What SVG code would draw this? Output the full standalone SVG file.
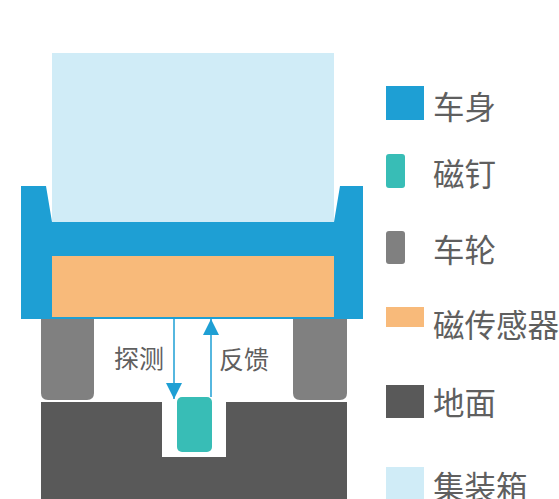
<svg xmlns="http://www.w3.org/2000/svg" width="559" height="499" viewBox="0 0 559 499">
  <defs>
    <style>
      .body { fill: #1E9FD4; }
      .container { fill: #D0ECF7; }
      .sensor { fill: #F8BA7A; }
      .wheel { fill: #808080; }
      .ground { fill: #595959; }
      .nail { fill: #38BDB6; }
      .label { font-family: "Noto Sans CJK SC", "Noto Sans", sans-serif; fill: #5f5f5f; }
      .legend-text { font-size: 31.5px; }
      .flow-text { font-size: 25px; }
      .arrow { stroke: #1E9FD4; stroke-width: 1.5; fill: none; }
    </style>
    <marker id="head" viewBox="0 0 16 16" refX="16" refY="8" markerWidth="16" markerHeight="16" markerUnits="userSpaceOnUse" orient="auto">
      <path d="M0,0 L16,8 L0,16 Z" fill="#1E9FD4"/>
    </marker>
  </defs>

  <!-- container on the vehicle -->
  <g id="container">
    <rect class="container" x="52" y="53" width="282" height="170"/>
  </g>

  <!-- vehicle body with side horns -->
  <g id="vehicle-body">
    <path class="body" d="M21,186 L46,186 L52,222 L334,222 L340,186 L363,186 L363,319 L21,319 Z"/>
  </g>

  <!-- magnetic sensor -->
  <g id="sensor">
    <rect class="sensor" x="52" y="256" width="282" height="61"/>
  </g>

  <!-- wheels -->
  <g id="wheel-left">
    <path class="wheel" d="M41,319 L94,319 L94,393 Q94,400 87,400 L48,400 Q41,400 41,393 Z"/>
  </g>
  <g id="wheel-right">
    <path class="wheel" d="M293,319 L347,319 L347,393 Q347,400 340,400 L300,400 Q293,400 293,393 Z"/>
  </g>

  <!-- ground with groove -->
  <g id="ground">
    <path class="ground" d="M41,402 L162,402 L162,457 L226,457 L226,402 L347,402 L347,499 L41,499 Z"/>
  </g>

  <!-- magnetic nail -->
  <g id="nail">
    <rect class="nail" x="177" y="397" width="35" height="55" rx="5" ry="5"/>
  </g>

  <!-- detection / feedback signals -->
  <g id="connectors">
    <line class="arrow" x1="174" y1="319" x2="174" y2="399" marker-end="url(#head)"/>
    <line class="arrow" x1="211" y1="397" x2="211" y2="319" marker-end="url(#head)"/>
  </g>
  <g id="signal-labels">
    <text class="label flow-text" x="114" y="368">探测</text>
    <text class="label flow-text" x="219" y="369">反馈</text>
  </g>

  <!-- legend -->
  <g id="legend-body">
    <rect class="body" x="386" y="86" width="38" height="34"/>
    <text class="label legend-text" x="433" y="119">车身</text>
  </g>
  <g id="legend-nail">
    <rect class="nail" x="386" y="154" width="19" height="34" rx="3" ry="3"/>
    <text class="label legend-text" x="433" y="186">磁钉</text>
  </g>
  <g id="legend-wheel">
    <rect class="wheel" x="386" y="231" width="19" height="33" rx="3" ry="3"/>
    <text class="label legend-text" x="433" y="262">车轮</text>
  </g>
  <g id="legend-sensor">
    <rect class="sensor" x="386" y="307" width="38" height="20"/>
    <text class="label legend-text" x="433" y="337">磁传感器</text>
  </g>
  <g id="legend-ground">
    <rect class="ground" x="386" y="385" width="38" height="33"/>
    <text class="label legend-text" x="433" y="415">地面</text>
  </g>
  <g id="legend-container">
    <rect class="container" x="386" y="467" width="38" height="32"/>
    <text class="label legend-text" x="433" y="499">集装箱</text>
  </g>
</svg>
